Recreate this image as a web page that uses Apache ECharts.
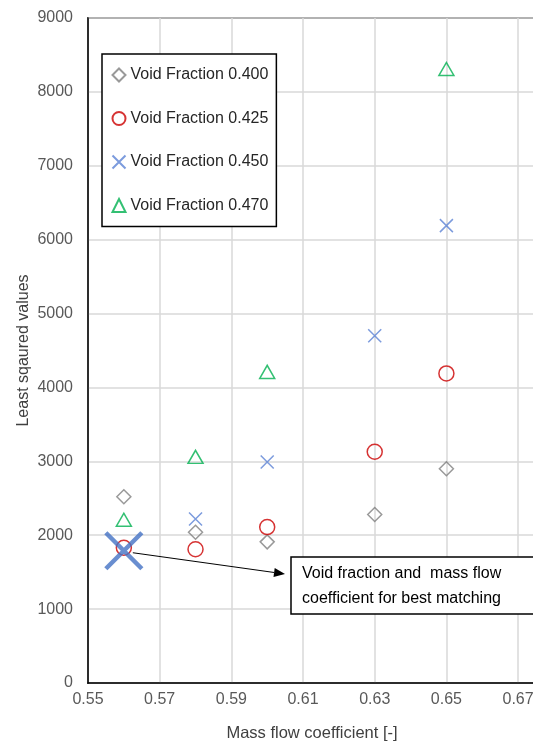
<!DOCTYPE html>
<html>
<head>
<meta charset="utf-8">
<script src="https://cdn.jsdelivr.net/npm/echarts@6/dist/echarts.min.js"></script>
<style>
  html, body { margin: 0; padding: 0; background: #fff; }
  #chart { width: 533px; height: 742px; }
</style>
</head>
<body>
<div id="chart"></div>
<script>
// mass flow coefficient for each column of points
var massFlow = [0.56, 0.58, 0.60, 0.63, 0.65];

// least squared values per void fraction (null = no point)
var vf400 = [2520, 2040, 1910, 2280, 2900];
var vf425 = [1830, 1810, 2110, 3130, 4190];
var vf450 = [1790, 2220, 2990, 4700, 6190];
var vf470 = [2210, 3060, 4210, null, 8310];

var seriesNames = ['Void Fraction 0.400', 'Void Fraction 0.425', 'Void Fraction 0.450', 'Void Fraction 0.470'];
var bestIndex = 0; // 0.450 at 0.56 is the best match
var noteText = 'Void fraction and  mass flow\ncoefficient for best matching';

var font = 'Liberation Sans, Arial, sans-serif';
var crossPath = 'path://M0,0L10,10M10,0L0,10';

function pairs(vals) {
    var out = [];
    for (var i = 0; i < massFlow.length; i++) {
        if (vals[i] !== null) out.push([massFlow[i], vals[i]]);
    }
    return out;
}

var myChart = echarts.init(document.getElementById('chart'));

var data450 = pairs(vf450).map(function (p, i) {
    if (i === bestIndex) {
        return { value: p, symbolSize: 36, itemStyle: { borderWidth: 4.5, borderColor: '#4472c4' } };
    }
    return p;
});

var option = {
    animation: false,
    grid: {
        left: 88,
        top: 18,
        right: -3,
        bottom: 59,
        outerBoundsMode: 'none',
        containLabel: false,
        show: true,
        borderColor: '#000',
        borderWidth: 1.5
    },
    legend: {
        orient: 'vertical',
        left: 102,
        top: 54,
        padding: [12, 8, 12, 8],
        itemGap: 25.5,
        itemWidth: 13,
        itemHeight: 13,
        backgroundColor: '#fff',
        borderColor: '#000',
        borderWidth: 1.5,
        data: seriesNames,
        textStyle: { fontFamily: font, fontSize: 16, color: '#262626' }
    },
    xAxis: {
        type: 'value',
        min: 0.55,
        max: 0.675,
        interval: 0.02,
        name: 'Mass flow coefficient [-]',
        nameLocation: 'middle',
        nameGap: 42,
        nameTextStyle: { fontFamily: font, fontSize: 16.5, color: '#404040' },
        axisLine: { lineStyle: { color: '#000', width: 1.5 } },
        axisTick: { show: false },
        axisLabel: {
            margin: 9,
            fontFamily: font,
            fontSize: 16,
            color: '#595959',
            showMaxLabel: false,
            formatter: function (v) { return v.toFixed(2); }
        },
        splitLine: { lineStyle: { color: '#d9d9d9', width: 1.5 } }
    },
    yAxis: {
        type: 'value',
        min: 0,
        max: 9000,
        interval: 1000,
        name: 'Least sqaured values',
        nameLocation: 'middle',
        nameGap: 56,
        nameMoveOverlap: false,
        nameTextStyle: { fontFamily: font, fontSize: 16, color: '#404040' },
        axisLine: { show: true, lineStyle: { color: '#000', width: 1.5 } },
        axisTick: { show: false },
        axisLabel: {
            margin: 15,
            fontFamily: font,
            fontSize: 16,
            color: '#595959',
            formatter: function (v) { return String(v); }
        },
        splitLine: { lineStyle: { color: '#d9d9d9', width: 1.5 } }
    },
    series: [
        {
            name: seriesNames[0],
            type: 'scatter',
            symbol: 'diamond',
            symbolSize: 14,
            itemStyle: { color: 'none', borderColor: '#808080', borderWidth: 1.5 },
            data: pairs(vf400)
        },
        {
            name: seriesNames[1],
            type: 'scatter',
            symbol: 'circle',
            symbolSize: 15,
            itemStyle: { color: 'none', borderColor: '#cc0000', borderWidth: 1.5 },
            data: pairs(vf425)
        },
        {
            name: seriesNames[2],
            type: 'scatter',
            symbol: crossPath,
            symbolSize: 13,
            itemStyle: { color: 'none', borderColor: '#5b82d4', borderWidth: 1.5 },
            data: data450
        },
        {
            name: seriesNames[3],
            type: 'scatter',
            symbol: 'triangle',
            symbolSize: [15, 13],
            itemStyle: { color: 'none', borderColor: '#00b050', borderWidth: 1.5 },
            data: pairs(vf470)
        }
    ]
};
myChart.setOption(option);

// annotation: arrow from best point to the note box
var start = myChart.convertToPixel({ gridIndex: 0 }, [massFlow[bestIndex], vf450[bestIndex]]);
var sx = start[0] + 9, sy = start[1] + 2;
var ex = 285, ey = 574;
var ang = Math.atan2(ey - sy, ex - sx);
var hl = 11, hw = 4.5;
var bx = ex - hl * Math.cos(ang), by = ey - hl * Math.sin(ang);
var head = [
    [ex, ey],
    [bx + hw * Math.sin(ang), by - hw * Math.cos(ang)],
    [bx - hw * Math.sin(ang), by + hw * Math.cos(ang)]
];

myChart.setOption({
    graphic: [
        {
            type: 'line',
            z: 100,
            shape: { x1: sx, y1: sy, x2: bx, y2: by },
            style: { stroke: '#000', lineWidth: 1 }
        },
        {
            type: 'polygon',
            z: 100,
            shape: { points: head },
            style: { fill: '#000' }
        },
        {
            type: 'rect',
            z: 100,
            shape: { x: 291, y: 557, width: 260, height: 57 },
            style: { fill: '#fff', stroke: '#000', lineWidth: 1.5 }
        },
        {
            type: 'text',
            z: 101,
            x: 302,
            y: 586,
            style: {
                text: noteText,
                fontFamily: font,
                fontSize: 16,
                lineHeight: 25,
                fill: '#000',
                verticalAlign: 'middle'
            }
        }
    ]
});
</script>
</body>
</html>
